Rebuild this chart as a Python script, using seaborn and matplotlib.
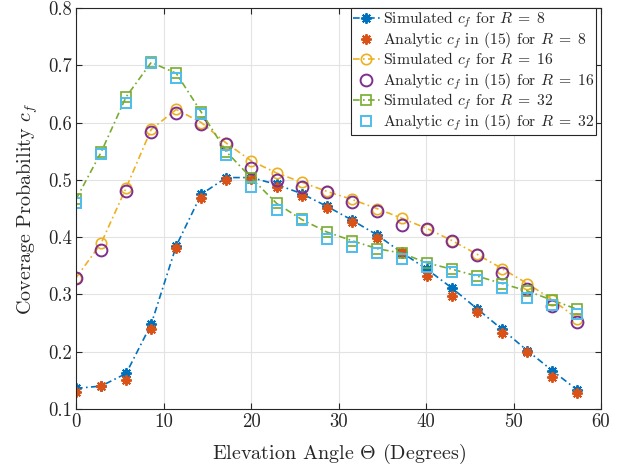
import numpy as np
import pandas as pd
import matplotlib
matplotlib.use("Agg")
import matplotlib.pyplot as plt
import seaborn as sns

# ---- data ----
angle_deg = [0, 2.86, 5.73, 8.59, 11.46, 14.32, 17.19, 20.05, 22.92, 25.78, 28.65,
             31.51, 34.38, 37.24, 40.11, 42.97, 45.84, 48.70, 51.57, 54.43, 57.30]

sim_r8 = [0.136, 0.140, 0.162, 0.248, 0.385, 0.475, 0.504, 0.504, 0.492, 0.476, 0.454,
          0.430, 0.404, 0.373, 0.344, 0.311, 0.275, 0.239, 0.202, 0.167, 0.133]
ana_r8 = [0.129, 0.140, 0.151, 0.239, 0.381, 0.469, 0.500, 0.501, 0.488, 0.472, 0.451,
          0.426, 0.399, 0.374, 0.332, 0.298, 0.269, 0.233, 0.199, 0.156, 0.128]
sim_r16 = [0.329, 0.389, 0.486, 0.588, 0.623, 0.600, 0.564, 0.533, 0.512, 0.496, 0.480,
           0.466, 0.450, 0.433, 0.415, 0.394, 0.370, 0.345, 0.319, 0.291, 0.257]
ana_r16 = [0.328, 0.378, 0.480, 0.584, 0.617, 0.597, 0.562, 0.520, 0.500, 0.487, 0.479,
           0.462, 0.445, 0.422, 0.414, 0.393, 0.368, 0.337, 0.309, 0.280, 0.252]
sim_r32 = [0.466, 0.548, 0.645, 0.705, 0.686, 0.618, 0.549, 0.503, 0.459, 0.431, 0.409,
           0.394, 0.380, 0.372, 0.355, 0.344, 0.332, 0.319, 0.306, 0.290, 0.274]
ana_r32 = [0.459, 0.546, 0.635, 0.704, 0.677, 0.615, 0.544, 0.488, 0.448, 0.430, 0.397,
           0.383, 0.372, 0.361, 0.348, 0.340, 0.325, 0.312, 0.294, 0.281, 0.265]

x_ticks = [0, 10, 20, 30, 40, 50, 60]
y_ticks = [0.1, 0.2, 0.3, 0.4, 0.5, 0.6, 0.7, 0.8]

sns.set_theme(style="whitegrid")
plt.rcParams.update({
    "font.family": ["cmr10"],
    "mathtext.fontset": "cm",
    "axes.formatter.use_mathtext": True,
    "axes.unicode_minus": False,
})

fig = plt.figure(figsize=(6.2, 4.72), dpi=100)
ax = fig.add_axes([0.1226, 0.1335, 0.8468, 0.8495])

C_BLUE = "#0072BD"
C_ORANGE = "#D95319"
C_YELLOW = "#EDB120"
C_PURPLE = "#7E2F8E"
C_GREEN = "#77AC30"
C_CYAN = "#4DBEEE"

def df(y):
    return pd.DataFrame({"x": angle_deg, "y": y})

ast = (8, 2, 0)
dd = (4, 2, 1, 2)

sns.lineplot(data=df(sim_r8), x="x", y="y", ax=ax, color=C_BLUE, dashes=dd,
             linewidth=1.2, marker=ast, markersize=7.5, markeredgewidth=1.4,
             markeredgecolor=C_BLUE, label=r"Simulated $c_f$ for $R\;=\;8$")
sns.lineplot(data=df(ana_r8), x="x", y="y", ax=ax, color=C_ORANGE, linestyle="none",
             marker=ast, markersize=7.5, markeredgewidth=1.4, markeredgecolor=C_ORANGE,
             label=r"Analytic $c_f$ in (15) for $R\;=\;8$")
sns.lineplot(data=df(sim_r16), x="x", y="y", ax=ax, color=C_YELLOW, dashes=dd,
             linewidth=1.2, marker="o", markersize=7.5, markeredgewidth=1.2,
             markerfacecolor="none", markeredgecolor=C_YELLOW,
             label=r"Simulated $c_f$ for $R\;=\;16$")
sns.lineplot(data=df(ana_r16), x="x", y="y", ax=ax, color=C_PURPLE, linestyle="none",
             marker="o", markersize=8.5, markeredgewidth=1.4,
             markerfacecolor="none", markeredgecolor=C_PURPLE,
             label=r"Analytic $c_f$ in (15) for $R\;=\;16$")
sns.lineplot(data=df(sim_r32), x="x", y="y", ax=ax, color=C_GREEN, dashes=dd,
             linewidth=1.2, marker="s", markersize=6.5, markeredgewidth=1.2,
             markerfacecolor="none", markeredgecolor=C_GREEN,
             label=r"Simulated $c_f$ for $R\;=\;32$")
sns.lineplot(data=df(ana_r32), x="x", y="y", ax=ax, color=C_CYAN, linestyle="none",
             marker="s", markersize=6.5, markeredgewidth=1.4,
             markerfacecolor="none", markeredgecolor=C_CYAN,
             label=r"Analytic $c_f$ in (15) for $R\;=\;32$")

ax.set_xlim(0, 60)
ax.set_ylim(0.1, 0.8)
ax.set_xticks(x_ticks)
ax.set_yticks(y_ticks)
ax.set_xticklabels([str(t) for t in x_ticks])
ax.set_yticklabels([f"{t:.1f}" for t in y_ticks])
ax.tick_params(axis="both", direction="in", length=4, width=0.8, labelsize=13.5,
               colors="#262626", top=True, right=True, bottom=True, left=True, pad=3)
ax.grid(True, color="#e3e3e3", linewidth=0.8)
for s in ax.spines.values():
    s.set_visible(True)
    s.set_color("#262626")
    s.set_linewidth(0.8)
ax.set_facecolor("white")

ax.set_xlabel(r"Elevation Angle $\Theta$ (Degrees)", fontsize=14.5, color="#262626", labelpad=8)
ax.set_ylabel(r"Coverage Probability $c_f$", fontsize=14.5, color="#262626", labelpad=6)

leg = ax.legend(loc="upper right", bbox_to_anchor=(0.99, 1.0), fontsize=11.3,
                frameon=True, fancybox=False, framealpha=1, edgecolor="#262626",
                borderpad=0.1, labelspacing=0.0, handlelength=1.7, handletextpad=0.2,
                borderaxespad=0.0)
leg.get_frame().set_linewidth(0.8)

fig.savefig("out.png", dpi=100)
